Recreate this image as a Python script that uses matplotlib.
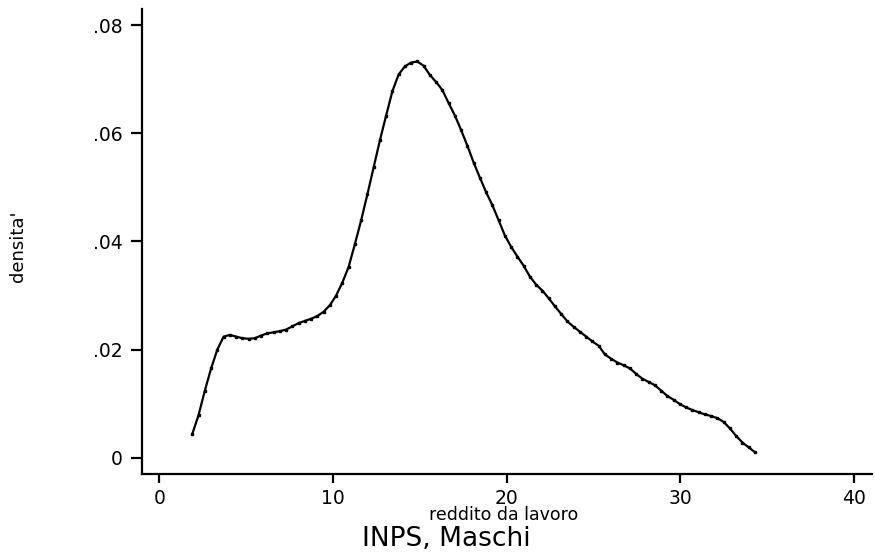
import matplotlib.pyplot as plt

# punti della stima di densita' (reddito in migliaia)
reddito = [1.90, 2.26, 2.62, 2.98, 3.34, 3.70, 4.06, 4.42, 4.78, 5.14,
           5.50, 5.86, 6.22, 6.58, 6.94, 7.30, 7.66, 8.02, 8.38, 8.74,
           9.10, 9.46, 9.82, 10.18, 10.54, 10.90, 11.26, 11.62, 11.98, 12.34,
           12.70, 13.06, 13.42, 13.78, 14.14, 14.50, 14.86, 15.22, 15.58, 15.94,
           16.30, 16.66, 17.02, 17.38, 17.74, 18.10, 18.46, 18.82, 19.18, 19.54,
           19.90, 20.26, 20.62, 20.98, 21.34, 21.70, 22.06, 22.42, 22.78, 23.14,
           23.50, 23.86, 24.22, 24.58, 24.94, 25.30, 25.66, 26.02, 26.38, 26.74,
           27.10, 27.46, 27.82, 28.18, 28.54, 28.90, 29.26, 29.62, 29.98, 30.34,
           30.70, 31.06, 31.42, 31.78, 32.14, 32.50, 32.86, 33.22, 33.58, 33.94,
           34.30]
densita = [0.0044, 0.0079, 0.0124, 0.0165, 0.0200, 0.0224, 0.0227, 0.0224, 0.0221, 0.0220,
           0.0221, 0.0226, 0.0230, 0.0232, 0.0234, 0.0237, 0.0243, 0.0249, 0.0253, 0.0257,
           0.0262, 0.0270, 0.0282, 0.0300, 0.0324, 0.0353, 0.0395, 0.0439, 0.0487, 0.0537,
           0.0587, 0.0633, 0.0678, 0.0709, 0.0724, 0.0731, 0.0733, 0.0725, 0.0708, 0.0695,
           0.0680, 0.0656, 0.0633, 0.0606, 0.0577, 0.0546, 0.0518, 0.0491, 0.0467, 0.0439,
           0.0411, 0.0390, 0.0372, 0.0355, 0.0335, 0.0320, 0.0309, 0.0295, 0.0280, 0.0266,
           0.0252, 0.0242, 0.0233, 0.0224, 0.0215, 0.0207, 0.0191, 0.0183, 0.0176, 0.0171,
           0.0165, 0.0155, 0.0146, 0.0140, 0.0134, 0.0124, 0.0114, 0.0107, 0.0099, 0.0093,
           0.0088, 0.0084, 0.0080, 0.0077, 0.0073, 0.0066, 0.0054, 0.0040, 0.0028, 0.0019,
           0.0010]

xticks = [0, 10, 20, 30, 40]
yticks = [0, 0.02, 0.04, 0.06, 0.08]
ytick_labels = ["0", ".02", ".04", ".06", ".08"]

plt.rcParams['font.family'] = 'DejaVu Sans'

fig = plt.figure(figsize=(8.75, 5.56), dpi=100)
ax = fig.add_axes([0.162, 0.1475, 0.834, 0.8358])

ax.plot(reddito, densita, color='black', lw=1.6, marker='s', ms=1.8)

ax.set_xlim(-1.013, 41.01)
ax.set_ylim(-0.00302, 0.08296)
ax.set_xticks(xticks)
ax.set_yticks(yticks)
ax.set_yticklabels(ytick_labels)

for side in ('top', 'right'):
    ax.spines[side].set_visible(False)
for side in ('left', 'bottom'):
    ax.spines[side].set_linewidth(1.6)

ax.tick_params(axis='x', length=6.5, width=1.6, pad=4, labelsize=13.5)
ax.tick_params(axis='y', length=8, width=1.6, pad=6, labelsize=13.5)

fig.text(0.576, 1 - 515 / 556, "reddito da lavoro", ha='center', va='center', fontsize=12.5)
fig.text(0.51, 1 - 539 / 556, "INPS, Maschi", ha='center', va='center', fontsize=19)
fig.text(0.02, 1 - 246 / 556, "densita'", ha='center', va='center', rotation=90, fontsize=13)

fig.savefig("out.png", dpi=100)
